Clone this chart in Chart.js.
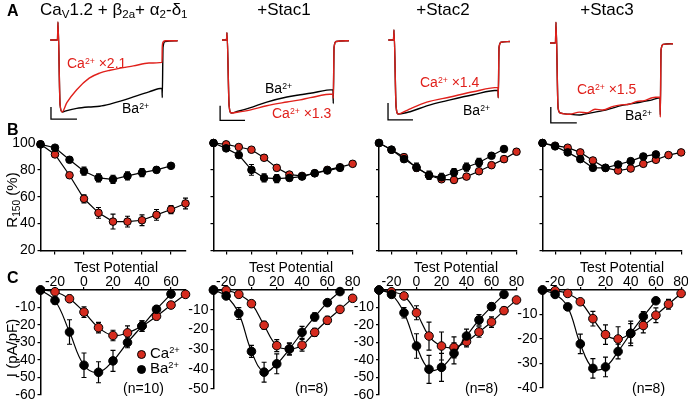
<!DOCTYPE html>
<html>
<head>
<meta charset="utf-8">
<script src="https://cdn.jsdelivr.net/npm/chart.js@4.4.0/dist/chart.umd.min.js"></script>
<style>
  body { margin: 0; background: #fff; }
  #fig { position: relative; width: 688px; height: 401px; overflow: hidden; font-family: "Liberation Sans", Arial, sans-serif; color: #000; }
  #fig canvas { position: absolute; left: 0; top: 0; }
  .t { position: absolute; white-space: nowrap; line-height: 1; font-size: 14px; }
  .c { transform: translateX(-50%); }
  .r { color: #e0201b; }
  .big { font-size: 17px; }
  .lbl { font-weight: bold; font-size: 16px; }
  .rot { transform: translate(-50%, -50%) rotate(-90deg); }
  sup { font-size: 0.62em; vertical-align: 0.5em; line-height: 0; }
  sub { font-size: 0.68em; vertical-align: -0.3em; line-height: 0; }
  .dot { display: inline-block; width: 9px; height: 9px; border-radius: 50%; border: 1px solid #000; box-sizing: border-box; margin-right: 4px; vertical-align: -1px; }
</style>
</head>
<body>
<div id="fig">
  <canvas id="a1" width="688" height="401"></canvas>
  <canvas id="a2" width="688" height="401"></canvas>
  <canvas id="a3" width="688" height="401"></canvas>
  <canvas id="a4" width="688" height="401"></canvas>
  <canvas id="b1" width="688" height="401"></canvas>
  <canvas id="b2" width="688" height="401"></canvas>
  <canvas id="b3" width="688" height="401"></canvas>
  <canvas id="b4" width="688" height="401"></canvas>
  <canvas id="c1" width="688" height="401"></canvas>
  <canvas id="c2" width="688" height="401"></canvas>
  <canvas id="c3" width="688" height="401"></canvas>
  <canvas id="c4" width="688" height="401"></canvas>

  <div class="t lbl" style="left:7px;top:3px">A</div>
  <div class="t big" style="left:40px;top:1px">Ca<sub>V</sub>1.2 + β<sub>2a</sub>+ α<sub>2</sub>-δ<sub>1</sub></div>
  <div class="t big c" style="left:284px;top:1px">+Stac1</div>
  <div class="t big c" style="left:443px;top:1px">+Stac2</div>
  <div class="t big c" style="left:607px;top:1px">+Stac3</div>

  <div class="t r" style="left:67px;top:56px">Ca<sup>2+</sup> ×2.1</div>
  <div class="t" style="left:122px;top:101px">Ba<sup>2+</sup></div>
  <div class="t" style="left:265px;top:81px">Ba<sup>2+</sup></div>
  <div class="t r" style="left:272px;top:106px">Ca<sup>2+</sup> ×1.3</div>
  <div class="t r" style="left:420px;top:75px">Ca<sup>2+</sup> ×1.4</div>
  <div class="t" style="left:463px;top:103px">Ba<sup>2+</sup></div>
  <div class="t r" style="left:577px;top:82px">Ca<sup>2+</sup> ×1.5</div>
  <div class="t" style="left:625px;top:108px">Ba<sup>2+</sup></div>

  <div class="t lbl" style="left:7px;top:122px">B</div>
  <div class="t rot" style="left:11px;top:200px;font-size:15px">R<sub>150</sub> (%)</div>

  <div class="t lbl" style="left:7px;top:270px">C</div>
  <div class="t rot" style="left:11px;top:348px;font-size:15px">I (pA/pF)</div>
  <div class="t c" style="left:116px;top:260px">Test Potential</div>
  <div class="t c" style="left:291px;top:260px">Test Potential</div>
  <div class="t c" style="left:456px;top:260px">Test Potential</div>
  <div class="t c" style="left:622px;top:260px">Test Potential</div>

  <div class="t" style="left:137px;top:345px;font-size:15px"><span class="dot" style="background:#d52b1e"></span>Ca<sup>2+</sup></div>
  <div class="t" style="left:137px;top:360px;font-size:15px"><span class="dot" style="background:#000"></span>Ba<sup>2+</sup></div>
  <div class="t" style="left:123px;top:381px">(n=10)</div>
  <div class="t" style="left:295px;top:381px">(n=8)</div>
  <div class="t" style="left:465px;top:381px">(n=8)</div>
  <div class="t" style="left:632px;top:381px">(n=8)</div>
</div>

<script>
// test potentials (mV)
const volts = [-30, -20, -10, 0, 10, 20, 30, 40, 50, 60, 70, 80];
const potentialTicks = [-20, 0, 20, 40, 60, 80];

// --- A: example currents, time in ms, current normalised to peak ---
const tA1 = [-15, -1, 0, 4, 8, 17, 36, 60, 80, 100, 120, 145, 175, 200, 200.5, 202, 206, 230];
const caA1 = [0, 0, 0.25, -0.9, -1.0, -0.87, -0.69, -0.53, -0.46, -0.42, -0.39, -0.36, -0.32, -0.31, -0.1, -0.03, -0.01, -0.01];
const baA1 = [0, 0, 0.25, -0.9, -1.0, -0.98, -0.95, -0.93, -0.92, -0.89, -0.85, -0.79, -0.72, -0.67, -0.8, -0.1, -0.02, -0.01];
const barA1 = { t: [-13.5, -13.5, 36.5], v: [-0.93, -1.1, -1.1] };

const tA2 = [-9.5, -1, 0, 4, 8, 19, 43, 75, 113, 138, 157, 200, 200.5, 202, 206, 230];
const caA2 = [0, 0, 0.1, -0.9, -1.0, -0.99, -0.96, -0.9, -0.85, -0.82, -0.79, -0.74, -0.8, -0.1, -0.02, -0.01];
const baA2 = [0, 0, 0.1, -0.9, -1.0, -0.98, -0.93, -0.85, -0.78, -0.75, -0.73, -0.68, -0.87, -0.1, -0.02, -0.01];
const barA2 = { t: [-13, -13, 34], v: [-0.9, -1.1, -1.1] };

const tA3 = [-11, -1, 0, 4, 8, 25, 31, 63, 108, 152, 200, 200.5, 202, 206, 223];
const caA3 = [0, 0, 0.135, -0.9, -1.0, -0.95, -0.93, -0.84, -0.77, -0.7, -0.64, -0.78, -0.1, -0.03, -0.02];
const baA3 = [0, 0, 0.135, -0.9, -1.0, -0.98, -0.97, -0.89, -0.81, -0.74, -0.68, -0.78, -0.1, -0.03, -0.02];
const barA3 = { t: [-11.5, -11.5, 36.5], v: [-0.85, -1.08, -1.08] };

const tA4 = [-11.5, -1, 0, 4, 8, 27, 45, 60, 75, 90, 110, 125, 140, 156, 170, 185, 200, 200.5, 202, 206, 225];
const caA4 = [0, 0, 0.29, -0.9, -0.97, -0.99, -0.96, -0.97, -0.92, -0.93, -0.88, -0.86, -0.85, -0.81, -0.8, -0.76, -0.75, -1.03, -0.1, -0.02, -0.01];
const baA4 = [0, 0, 0.29, -0.9, -0.97, -0.99, -1.0, -0.98, -0.96, -0.94, -0.9, -0.87, -0.85, -0.83, -0.81, -0.79, -0.76, -1.0, -0.1, -0.02, -0.01];
const barA4 = { t: [-10, -10, 40], v: [-0.89, -1.11, -1.11] };

// --- B: R150 (%) ---
const r150Ca1 = [99, 91.5, 76, 58.5, 48, 41.5, 41.5, 42.5, 46.5, 50.5, 55];
const r150Ca1Err = [1, 1.5, 2, 3, 4, 5.5, 4, 4, 4, 3, 4];
const r150Ba1 = [99, 96.5, 87.5, 79, 74, 73, 75.5, 78, 80, 83];
const r150Ba1Err = [1, 1, 2, 3, 3, 3, 3, 3, 2, 1];

const r150Ca2 = [100, 99, 97, 95, 89, 81.5, 76.5, 75.5, 77.5, 80, 82, 84.5];
const r150Ca2Err = [0, 1, 1, 1, 2, 2, 2, 2, 2, 2, 2, 2];
const r150Ba2 = [100, 96, 91, 80, 74, 73.5, 74, 75, 77.5, 79.5, 81.5];
const r150Ba2Err = [0, 1, 2, 4, 3, 3, 2, 2, 2, 2, 2];

const r150Ca3 = [100, 95, 89.5, 81.5, 76, 73, 72.5, 75, 79, 83.5, 88, 93.5];
const r150Ca3Err = [0, 1, 2, 2, 2, 2, 2, 2, 2, 2, 2, 2];
const r150Ba3 = [100, 95, 88, 82, 76, 74.5, 78, 82, 85.5, 90.5, 95.5];
const r150Ba3Err = [0, 1, 2, 3, 3, 3, 3, 3, 3, 2, 2];

const r150Ca4 = [100, 98, 96.5, 93, 87, 81.5, 79.5, 81, 84.5, 87.5, 91, 93];
const r150Ca4Err = [0, 1, 1, 1, 2, 2, 2, 2, 2, 1, 1, 1];
const r150Ba4 = [100, 97.5, 93, 88, 81.5, 81.5, 84, 86.5, 90, 91.5];
const r150Ba4Err = [0, 1, 1, 1, 2, 2, 1, 1, 1, 1];

// --- C: I-V (pA/pF) ---
const ivCa1 = [0, -1, -5, -12.6, -21.5, -26, -24.5, -20.6, -15, -8.6, -2.5];
const ivCa1Err = [0, 1, 2, 3, 3, 3, 4, 3, 2, 1, 1];
const ivBa1 = [0, -6, -24, -43, -47, -40.5, -30, -20.6, -11, -2.3];
const ivBa1Err = [0, 2, 7, 7, 6, 6, 3, 3, 2, 1];

const ivCa2 = [0, -0.2, -2.2, -6.9, -17.8, -28.1, -29.8, -27.9, -21.4, -15.3, -9.8, -4.2];
const ivCa2Err = [0, 0.5, 1, 1.5, 2, 3, 3, 3, 2, 2, 1, 1];
const ivBa2 = [0, -3, -11.9, -31, -41.5, -37.3, -29.8, -21.4, -13.6, -6.4, -0.8];
const ivBa2Err = [0, 1, 3, 3, 5, 5, 3, 3, 2, 1, 0.5];

const ivCa3 = [0, -1, -3.4, -13, -26.3, -32, -32.8, -29.5, -24, -18.3, -11.8, -5.7];
const ivCa3Err = [0, 1, 1, 4, 8, 8, 6, 3, 3, 3, 2, 1];
const ivBa3 = [0, -2.5, -13, -32, -45.3, -44.2, -36.2, -26.3, -17.1, -9.5, -2.5];
const ivBa3Err = [0, 1, 3, 7, 8, 8, 6, 4, 3, 2, 1];

const ivCa4 = [0, -0.3, -1.4, -4.8, -11.7, -18.2, -20, -17.7, -14.5, -10.3, -5.8, -1.4];
const ivCa4Err = [0, 0.3, 0.5, 1, 3, 4, 5, 5, 3, 3, 2, 1];
const ivBa4 = [0, -1.8, -6.9, -22, -32, -31.4, -25.1, -17.7, -10.8, -4.4];
const ivBa4Err = [0, 0.5, 1, 4, 4, 4, 3, 4, 2, 0.5];

// ---------------------------------------------------------------
Chart.defaults.font.family = '"Liberation Sans", Arial, sans-serif';
Chart.defaults.font.size = 14;
Chart.defaults.color = '#000';

const W = 688, H = 401;
const RED = '#e0201b';
const DOT_RED = '#d52b1e';

const pts = (xs, ys) => ys.map((y, i) => ({ x: xs[i], y: y }));

// vertical SEM bars, drawn under the markers
const errorBars = {
  id: 'errorBars',
  beforeDatasetsDraw(chart) {
    const ctx = chart.ctx;
    const ys = chart.scales.y;
    chart.data.datasets.forEach((ds, i) => {
      if (!ds.err) return;
      const meta = chart.getDatasetMeta(i);
      ctx.save();
      ctx.strokeStyle = '#000';
      ctx.lineWidth = 1.2;
      meta.data.forEach((p, j) => {
        const e = ds.err[j];
        if (!e) return;
        const v = ds.data[j].y;
        const y1 = ys.getPixelForValue(v - e), y2 = ys.getPixelForValue(v + e);
        ctx.beginPath();
        ctx.moveTo(p.x, y1); ctx.lineTo(p.x, y2);
        ctx.moveTo(p.x - 2.5, y1); ctx.lineTo(p.x + 2.5, y1);
        ctx.moveTo(p.x - 2.5, y2); ctx.lineTo(p.x + 2.5, y2);
        ctx.stroke();
      });
      ctx.restore();
    });
  }
};

function fixBox(prop, size) {
  return s => {
    s.paddingLeft = 0; s.paddingRight = 0; s.paddingTop = 0; s.paddingBottom = 0;
    s[prop] = size;
  };
}

function makeChart(id, padding, scales, datasets) {
  return new Chart(document.getElementById(id), {
    type: 'line',
    data: { datasets },
    options: {
      responsive: false,
      animation: false,
      events: [],
      layout: { padding },
      plugins: { legend: { display: false }, tooltip: { enabled: false } },
      scales
    },
    plugins: [errorBars]
  });
}

// ---- row A: traces ----
const traceGeom = [
  { x0: 58, ppm: 0.52, y0: 40, ppu: 72 },
  { x0: 227, ppm: 0.53, y0: 40, ppu: 73 },
  { x0: 394, ppm: 0.52, y0: 40, ppu: 74 },
  { x0: 556, ppm: 0.52, y0: 43, ppu: 72 }
];
const traces = [
  [tA1, caA1, baA1, barA1],
  [tA2, caA2, baA2, barA2],
  [tA3, caA3, baA3, barA3],
  [tA4, caA4, baA4, barA4]
];
const T_MIN = -25, T_MAX = 240, V_MIN = -1.25, V_MAX = 0.4;

traces.forEach(([t, ca, ba, bar], i) => {
  const g = traceGeom[i];
  const pad = {
    left: g.x0 + T_MIN * g.ppm,
    right: W - (g.x0 + T_MAX * g.ppm),
    top: g.y0 - V_MAX * g.ppu,
    bottom: H - (g.y0 - V_MIN * g.ppu)
  };
  const line = (color, data) => ({
    data, borderColor: color, borderWidth: 1.4, pointRadius: 0,
    cubicInterpolationMode: 'monotone', clip: false, fill: false
  });
  makeChart('a' + (i + 1), pad, {
    x: { type: 'linear', min: T_MIN, max: T_MAX, display: false },
    y: { min: V_MIN, max: V_MAX, display: false }
  }, [
    line(RED, pts(t, ca)),
    line('#000', pts(t, ba)),
    { data: pts(bar.t, bar.v), borderColor: '#000', borderWidth: 1.3, pointRadius: 0, tension: 0, clip: false }
  ]);
});

// ---- rows B and C ----
const cols = [
  { left: 40.5, ppmv: 1.45, bMax: 70, cMax: 70, cMin: -60, cBottom: 395 },
  { left: 213.5, ppmv: 1.265, bMax: 80, cMax: 80, cMin: -50, cBottom: 389 },
  { left: 379, ppmv: 1.25, bMax: 80, cMax: 80, cMin: -60, cBottom: 395 },
  { left: 542.5, ppmv: 1.26, bMax: 80, cMax: 80, cMin: -40, cBottom: 388 }
];
const r150Sets = [
  [r150Ca1, r150Ca1Err, r150Ba1, r150Ba1Err],
  [r150Ca2, r150Ca2Err, r150Ba2, r150Ba2Err],
  [r150Ca3, r150Ca3Err, r150Ba3, r150Ba3Err],
  [r150Ca4, r150Ca4Err, r150Ba4, r150Ba4Err]
];
const ivSets = [
  [ivCa1, ivCa1Err, ivBa1, ivBa1Err],
  [ivCa2, ivCa2Err, ivBa2, ivBa2Err],
  [ivCa3, ivCa3Err, ivBa3, ivBa3Err],
  [ivCa4, ivCa4Err, ivBa4, ivBa4Err]
];

const Y_BOX = 40;
const B_TOP = 143, B_BOTTOM = 250.5, B_XBOX = 6;
const C_TOP = 290, C_XBOX = 20;

const axisStyle = {
  border: { display: true, color: '#000', width: 1.5 },
  grid: { drawOnChartArea: false, drawTicks: true, tickLength: 3, color: '#000', lineWidth: 1.2 }
};

function seriesPair(ca, caErr, ba, baErr, radius, tension) {
  const common = { borderColor: '#000', borderWidth: 1.2, pointRadius: radius, pointBorderWidth: 1,
    pointBorderColor: '#000', tension, clip: false, fill: false };
  return [
    Object.assign({ data: pts(volts, ba), err: baErr, pointBackgroundColor: '#000' }, common),
    Object.assign({ data: pts(volts, ca), err: caErr, pointBackgroundColor: DOT_RED }, common)
  ];
}

cols.forEach((c, i) => {
  const fixedTicks = max => s => { s.ticks = potentialTicks.filter(v => v <= max).map(v => ({ value: v })); };

  // B: R150
  const bRight = c.left + (c.bMax + 30) * c.ppmv;
  const [ca, caE, ba, baE] = r150Sets[i];
  makeChart('b' + (i + 1), {
    left: c.left - Y_BOX, right: W - bRight, top: B_TOP, bottom: H - B_BOTTOM - B_XBOX
  }, {
    x: Object.assign({
      type: 'linear', position: 'bottom', min: -30, max: c.bMax,
      afterBuildTicks: fixedTicks(c.bMax), afterFit: fixBox('height', B_XBOX),
      ticks: { callback: () => '', autoSkip: false, maxRotation: 0 }
    }, axisStyle, { grid: Object.assign({}, axisStyle.grid, { tickLength: 4 }) }),
    y: Object.assign({
      min: 20, max: 100, afterFit: fixBox('width', Y_BOX),
      ticks: { stepSize: 20, padding: 2, autoSkip: false, callback: v => (i === 0 ? v : '') }
    }, axisStyle)
  }, seriesPair(ca, caE, ba, baE, 3.8, 0));

  // C: I-V
  const cRight = c.left + (c.cMax + 30) * c.ppmv;
  const [ica, icaE, iba, ibaE] = ivSets[i];
  makeChart('c' + (i + 1), {
    left: c.left - Y_BOX, right: W - cRight, top: C_TOP - C_XBOX, bottom: H - c.cBottom
  }, {
    x: Object.assign({
      type: 'linear', position: 'top', min: -30, max: c.cMax,
      afterBuildTicks: fixedTicks(c.cMax), afterFit: fixBox('height', C_XBOX),
      ticks: { autoSkip: false, maxRotation: 0, padding: -2, font: { size: 14, lineHeight: 1 } }
    }, axisStyle),
    y: Object.assign({
      min: c.cMin, max: 0, afterFit: fixBox('width', Y_BOX),
      ticks: { stepSize: 10, padding: 2, autoSkip: false, callback: v => (v === 0 ? '' : v) }
    }, axisStyle)
  }, seriesPair(ica, icaE, iba, ibaE, 4.3, 0.4));
});
</script>
</body>
</html>
